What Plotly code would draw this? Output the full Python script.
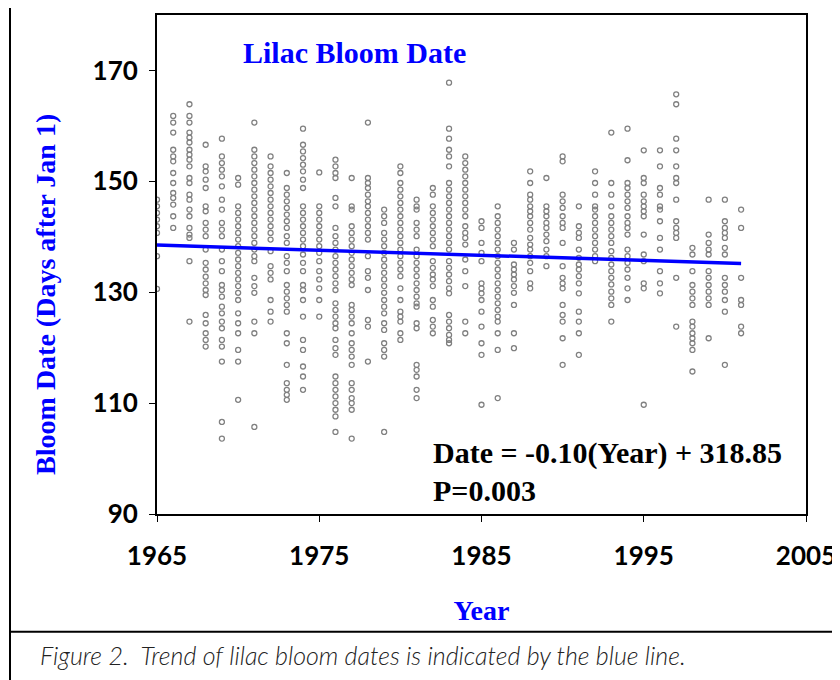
import plotly.graph_objects as go

# bloom dates (days after Jan 1) read per year from the picture
bloom = {
    1965: [146.7, 145.5, 144.3, 143.1, 141.9, 140.7, 136.5, 130.6],
    1966: [161.8, 160.6, 158.8, 155.7, 154.5, 153.6, 151.5, 149.7, 147.9, 147.0, 145.8, 143.7, 141.6],
    1967: [163.9, 161.8, 160.6, 158.8, 157.9, 157.0, 155.7, 154.8, 153.9, 152.7, 150.6, 149.7, 147.6, 146.7,
           144.9, 143.7, 141.6, 140.4, 139.8, 135.6, 124.7],
    1968: [156.6, 152.7, 151.8, 150.3, 148.8, 145.5, 144.6, 142.5, 141.3, 140.1, 137.7, 135.3, 134.1, 132.8,
           131.6, 130.4, 129.5, 125.9, 124.4, 122.6, 121.4, 120.2],
    1969: [157.7, 154.5, 153.3, 152.1, 150.9, 149.1, 146.7, 144.9, 142.5, 141.3, 140.1, 137.7, 135.6, 133.8,
           131.3, 130.4, 129.2, 127.4, 126.2, 124.7, 123.5, 121.4, 120.2, 117.5, 106.6, 103.6],
    1970: [150.6, 149.4, 145.5, 144.3, 143.1, 141.9, 140.7, 139.5, 138.3, 137.1, 135.9, 134.7, 133.5, 132.3,
           131.1, 129.9, 128.6, 126.2, 124.4, 122.6, 119.6, 117.5, 110.6],
    1971: [160.6, 155.7, 154.5, 153.3, 152.1, 150.9, 149.7, 148.5, 147.3, 146.1, 144.9, 143.7, 142.5, 141.3,
           140.1, 138.9, 137.7, 136.5, 135.6, 132.6, 131.1, 129.9, 124.7, 122.6, 105.7],
    1972: [154.5, 152.7, 151.5, 150.3, 149.1, 147.9, 146.7, 145.5, 144.3, 143.1, 141.9, 140.7, 139.5, 137.4,
           134.7, 133.5, 132.3, 128.6, 126.5, 124.7],
    1973: [151.5, 148.8, 147.6, 146.4, 145.2, 144.0, 142.8, 141.6, 140.1, 138.9, 136.5, 135.3, 133.8, 131.3,
           130.1, 128.9, 127.7, 126.5, 122.6, 120.8, 116.9, 113.6, 112.4, 111.5, 110.6],
    1974: [159.5, 156.6, 155.4, 154.2, 153.0, 151.8, 150.3, 148.8, 145.5, 144.3, 143.1, 141.9, 140.7, 139.5,
           138.3, 136.8, 135.3, 133.8, 131.3, 130.4, 128.6, 125.6, 121.4, 119.6, 116.6, 114.8, 112.4],
    1975: [151.6, 145.5, 144.3, 143.1, 141.9, 140.7, 139.5, 138.3, 137.1, 135.6, 133.8, 132.3, 130.7, 128.6, 125.6],
    1976: [153.9, 152.7, 151.5, 150.6, 147.0, 145.5, 141.6, 140.1, 138.9, 137.7, 136.5, 135.3, 134.1, 132.9,
           131.6, 130.4, 128.0, 126.8, 125.6, 124.4, 123.5, 121.4, 119.9, 118.7, 114.8, 113.6, 112.4, 111.2,
           110.0, 108.8, 107.6, 104.8],
    1977: [150.6, 145.5, 144.9, 141.9, 140.7, 139.5, 138.3, 137.1, 135.9, 134.7, 133.5, 132.3, 131.3, 127.7,
           126.8, 125.6, 124.4, 122.6, 120.8, 119.6, 118.4, 116.9, 113.6, 112.4, 110.9, 110.0, 108.8, 103.6],
    1978: [160.6, 150.6, 149.7, 148.8, 147.6, 146.4, 145.5, 144.3, 143.1, 141.9, 140.7, 139.5, 136.5, 133.8,
           132.6, 130.4, 125.0, 123.8, 117.5],
    1979: [144.9, 143.7, 142.5, 140.7, 139.5, 138.3, 137.1, 135.9, 134.7, 133.5, 132.3, 131.1, 129.9, 128.6,
           127.4, 126.2, 124.4, 123.2, 120.8, 119.6, 118.4, 104.8],
    1980: [152.7, 151.5, 149.7, 148.5, 147.3, 146.1, 144.9, 143.7, 142.5, 141.3, 140.1, 138.9, 137.7, 136.5,
           135.3, 134.1, 132.9, 130.7, 128.6, 126.5, 125.6, 124.7, 122.6, 121.4],
    1981: [146.7, 145.5, 144.9, 142.5, 141.3, 140.1, 137.7, 136.5, 135.3, 134.1, 132.9, 131.6, 130.4, 129.2,
           128.0, 127.4, 124.4, 123.5, 116.9, 116.0, 114.8, 112.4, 110.9],
    1982: [148.8, 147.6, 145.5, 144.3, 143.1, 141.9, 140.7, 139.5, 138.3, 135.6, 134.4, 133.2, 132.3, 131.1,
           128.6, 127.4, 125.0, 123.8, 122.6],
    1983: [167.8, 159.5, 157.7, 155.7, 154.5, 152.7, 149.7, 148.5, 147.3, 146.1, 144.9, 143.7, 142.5, 141.3,
           140.1, 138.9, 137.7, 135.6, 134.4, 133.2, 132.0, 130.7, 129.8, 125.9, 124.7, 123.5, 122.3, 121.4, 120.8],
    1984: [154.5, 153.3, 152.1, 150.9, 149.7, 148.5, 147.3, 146.1, 144.9, 143.7, 141.9, 140.7, 139.8, 138.6,
           135.9, 133.8, 131.1, 124.7, 122.6],
    1985: [142.8, 141.6, 138.9, 137.1, 135.6, 131.6, 130.7, 129.8, 128.6, 126.5, 123.8, 120.8, 118.7, 109.7],
    1986: [145.5, 143.7, 142.5, 141.3, 140.1, 138.9, 137.7, 136.5, 135.3, 134.1, 132.9, 131.6, 130.4, 129.2,
           128.0, 126.8, 125.6, 124.7, 122.6, 119.6, 110.9],
    1987: [138.9, 137.7, 135.0, 134.1, 133.2, 132.3, 131.1, 129.9, 127.7, 122.6, 119.9],
    1988: [151.8, 149.7, 147.6, 146.7, 145.5, 144.6, 143.7, 142.5, 141.3, 139.8, 138.6, 137.7, 136.5, 135.3,
           133.8, 131.6, 130.7],
    1989: [150.6, 145.5, 144.6, 143.7, 142.5, 141.6, 140.4, 139.2, 137.7, 136.5, 134.7],
    1990: [154.5, 153.6, 147.6, 146.4, 145.2, 143.7, 142.5, 141.6, 138.9, 134.7, 132.6, 131.6, 130.7, 127.7,
           125.9, 124.7, 121.7, 116.9],
    1991: [145.5, 141.9, 140.7, 139.8, 137.7, 136.2, 135.0, 134.1, 132.9, 131.6, 129.8, 126.5, 124.7, 122.6, 118.7],
    1992: [151.8, 149.7, 147.6, 145.5, 144.9, 143.7, 142.5, 141.3, 140.1, 138.9, 137.7, 136.5, 135.6],
    1993: [158.8, 149.7, 147.6, 145.5, 143.7, 142.5, 141.3, 140.1, 138.9, 137.4, 136.2, 135.0, 133.8, 132.6,
           131.4, 130.1, 128.9, 127.7, 124.7],
    1994: [159.5, 153.8, 149.7, 148.8, 147.6, 146.4, 145.2, 143.7, 142.5, 141.6, 140.4, 137.7, 136.5, 135.3,
           134.1, 132.6, 130.7, 128.6],
    1995: [155.6, 150.6, 149.7, 147.6, 146.4, 145.5, 144.6, 143.7, 140.4, 136.8, 135.6, 131.6, 130.7, 109.7],
    1996: [155.6, 152.7, 148.8, 147.6, 145.5, 144.9, 142.8, 139.8, 137.7, 133.8, 131.6, 129.8],
    1997: [165.7, 163.9, 157.7, 155.6, 152.7, 150.6, 149.7, 146.7, 142.8, 141.6, 140.7, 139.8, 132.6, 123.8],
    1998: [138.0, 136.8, 133.8, 131.3, 130.1, 128.9, 127.7, 124.7, 123.8, 122.6, 121.7, 120.8, 119.6, 115.7],
    1999: [146.7, 140.4, 138.9, 137.7, 136.8, 133.8, 132.6, 131.3, 130.1, 128.9, 127.7, 121.7],
    2000: [146.7, 142.8, 141.6, 140.7, 139.8, 138.0, 136.8, 132.6, 131.3, 130.1, 128.6, 126.5, 116.9],
    2001: [144.9, 141.6, 132.6, 128.6, 127.7, 123.8, 122.6],
}

trend_years = [1965, 2001]
trend_dates = [138.5, 135.2]

xs, ys = [], []
for yr, vals in bloom.items():
    xs += [yr] * len(vals)
    ys += vals

serif = "Liberation Serif"
sans = "Lato"

fig = go.Figure()
fig.add_trace(go.Scatter(x=xs, y=ys, mode="markers",
                         marker=dict(symbol="circle-open", size=5, color="#808080", line=dict(width=1.3))))
fig.add_trace(go.Scatter(x=trend_years, y=trend_dates, mode="lines", line=dict(color="#0000ff", width=3.5)))

fig.update_layout(
    width=840, height=680, showlegend=False,
    paper_bgcolor="white", plot_bgcolor="white",
    margin=dict(l=149, r=42, t=7, b=174),
    xaxis=dict(range=[1965, 2005], tickvals=[1965, 1975, 1985, 1995, 2005], ticks="outside",
               ticklen=6, tickcolor="black", showgrid=False, zeroline=False, automargin=False,
               showline=True, linecolor="black", linewidth=2, mirror=True, ticklabelstandoff=12,
               tickfont=dict(family=sans, size=26, color="black", weight="bold"),
               title=dict(text="<b>Year</b>", font=dict(family=serif, size=28, color="#0000ff"), standoff=30)),
    yaxis=dict(range=[90, 180], tickvals=[90, 110, 130, 150, 170], ticks="outside",
               ticklen=6, tickcolor="black", showgrid=False, zeroline=False, automargin=False,
               showline=True, linecolor="black", linewidth=2, mirror=True, ticklabelstandoff=6,
               tickfont=dict(family=sans, size=26, color="black", weight="bold")),
)

# y axis title, placed a little below the plot centre as in the original
fig.add_annotation(xref="paper", x=-0.198, y=129.7, textangle=-90, showarrow=False,
                   text="<b>Bloom Date (Days after Jan 1)</b>",
                   font=dict(family=serif, size=28, color="#0000ff"))
fig.add_annotation(x=1977.2, y=173.2, text="<b>Lilac Bloom Date</b>", showarrow=False,
                   font=dict(family=serif, size=30, color="#0000ff"))
fig.add_annotation(x=1981.9, y=101.0, xanchor="left", text="<b>Date = -0.10(Year) + 318.85</b>",
                   showarrow=False, font=dict(family=serif, size=30, color="black"))
fig.add_annotation(x=1981.9, y=94.2, xanchor="left", text="<b>P=0.003</b>", showarrow=False,
                   font=dict(family=serif, size=30, color="black"))
fig.add_annotation(xref="paper", yref="paper", x=-0.183, y=-0.283, xanchor="left", yanchor="middle",
                   text="<i>Figure 2.  Trend of lilac bloom dates is indicated by the blue line.</i>",
                   showarrow=False, font=dict(family=sans, size=25, color="#222222", weight=300))

# outer frame and caption divider
fig.add_shape(type="line", xref="paper", yref="paper", x0=-0.2265, x1=-0.2265, y0=-0.5, y1=1.05,
              line=dict(color="black", width=2))
fig.add_shape(type="line", xref="paper", yref="paper", x0=-0.2265, x1=1.1, y0=-0.236, y1=-0.236,
              line=dict(color="black", width=2))

fig.write_html("out.html")
